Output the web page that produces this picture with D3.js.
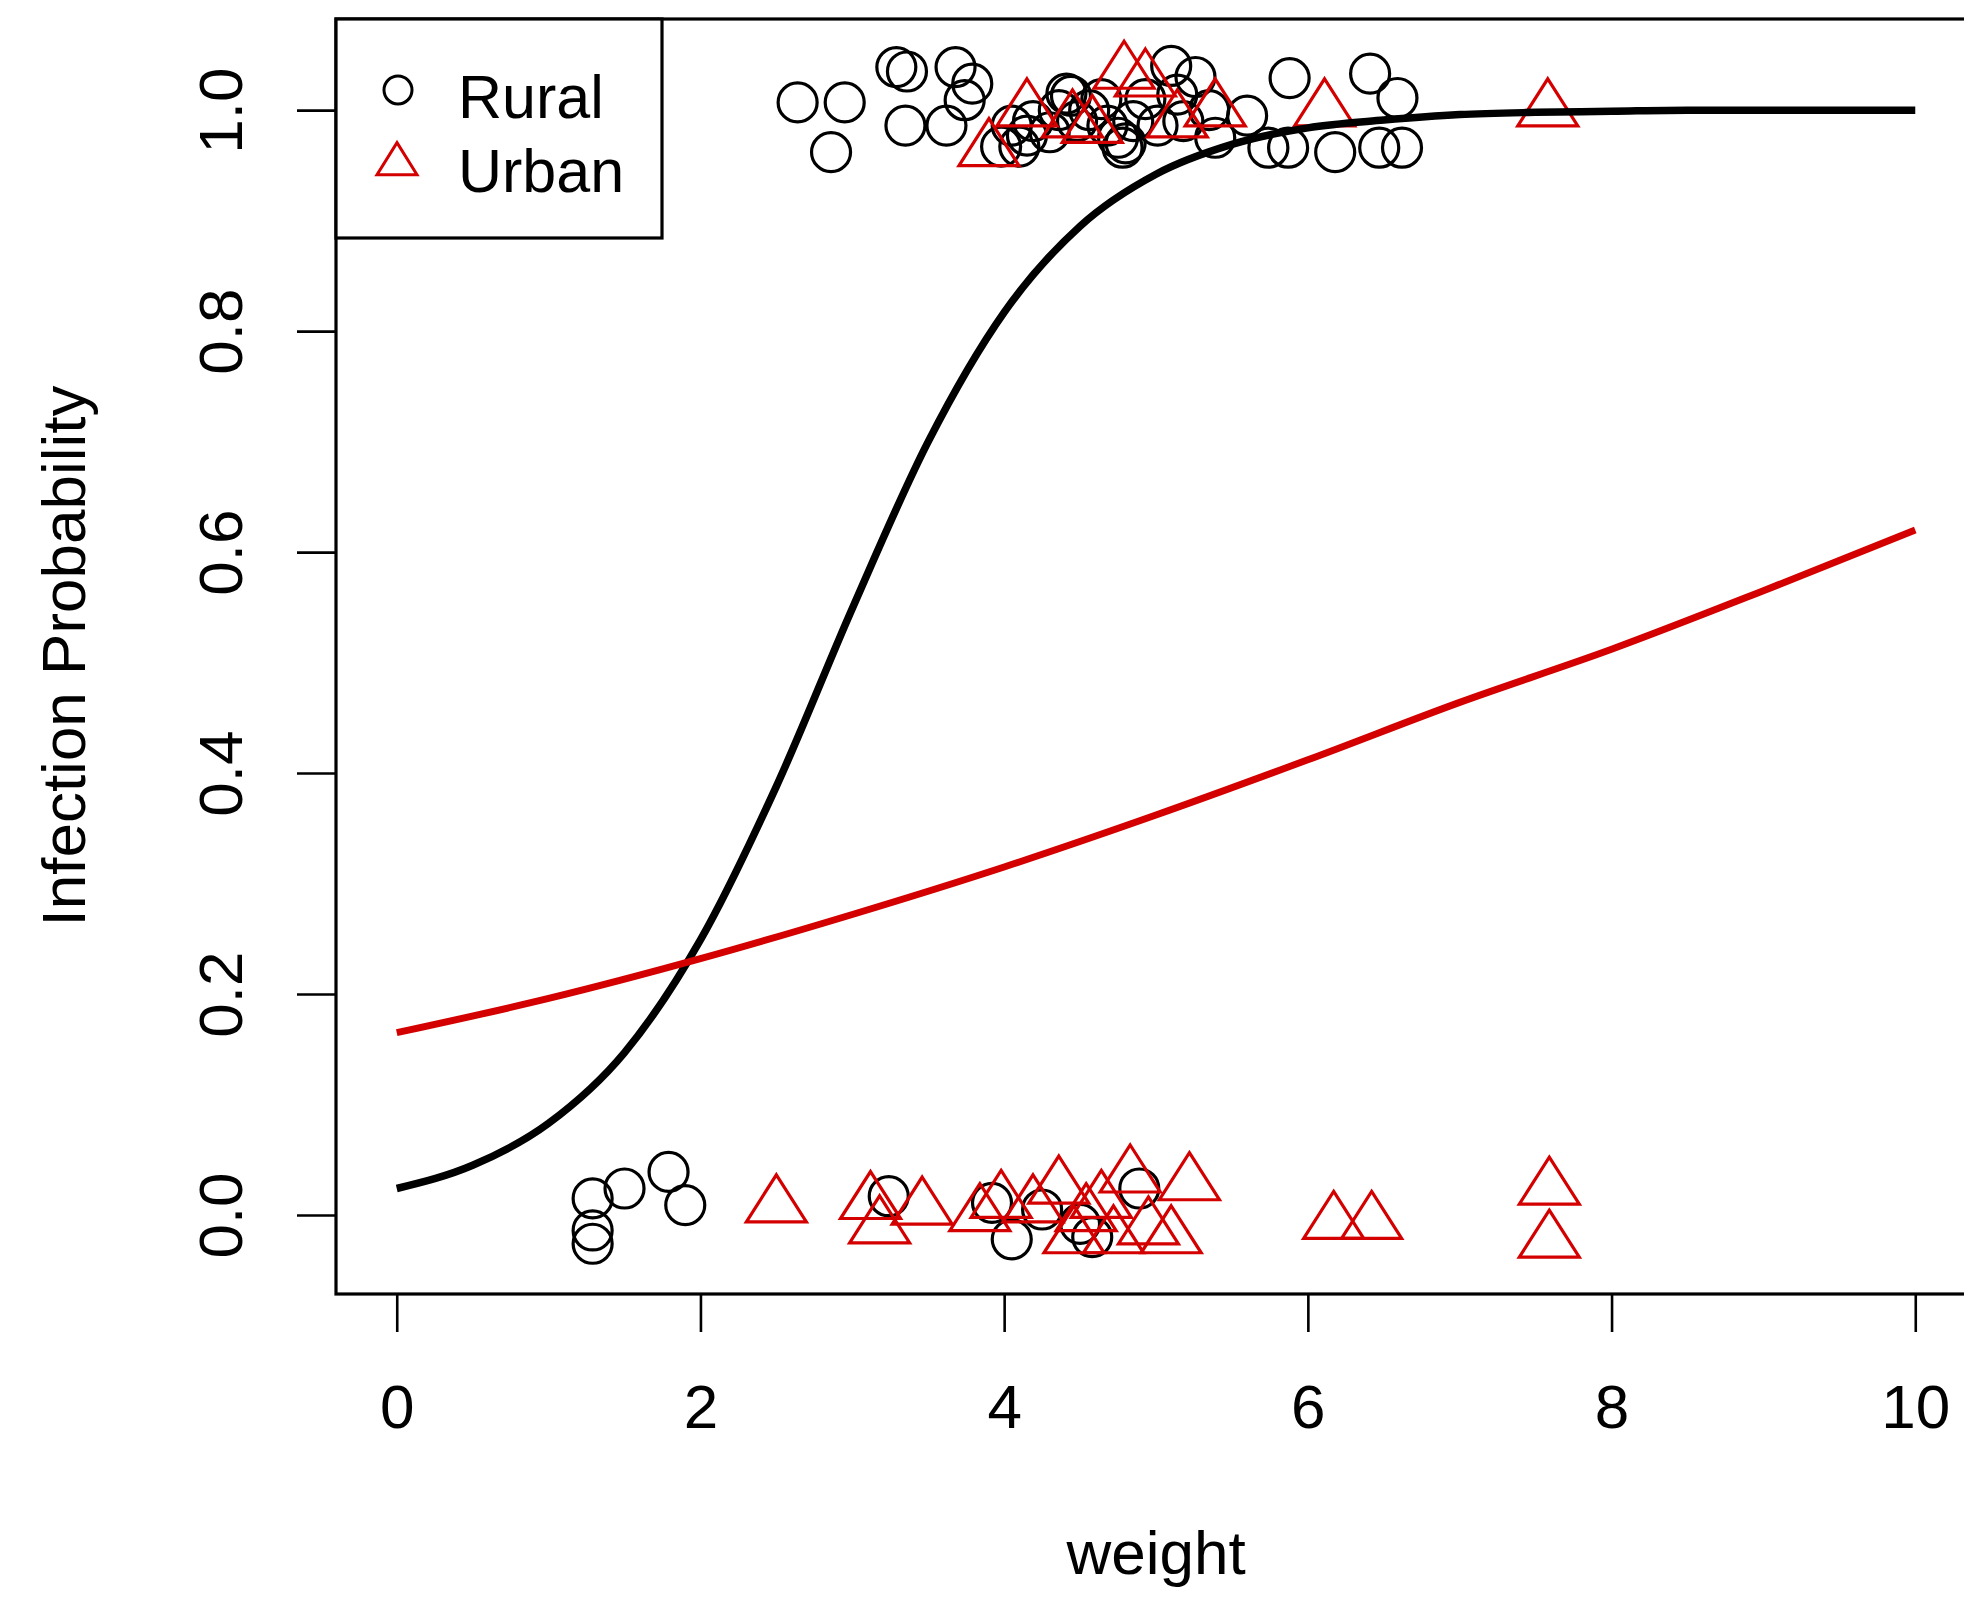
<!DOCTYPE html>
<html>
<head>
<meta charset="utf-8">
<script src="https://cdn.jsdelivr.net/npm/d3@7"></script>
<style>
  html, body { margin: 0; padding: 0; background: #ffffff; }
  svg { display: block; }
  text { font-family: "Liberation Sans", Arial, sans-serif; fill: #000; }
</style>
</head>
<body>
<svg id="chart" width="1964" height="1600"></svg>
<script>
// ---------------- data ----------------
const xTicks = [0, 2, 4, 6, 8, 10];
const yTicks = [0.0, 0.2, 0.4, 0.6, 0.8, 1.0];
const xTitle = "weight";
const yTitle = "Infection Probability";
const legendLabels = ["Rural", "Urban"];

// Rural observations (black circles)
const ruralX = [2.64, 2.95, 2.86, 3.29, 3.36, 3.68, 3.79, 3.74, 3.35, 3.62,
                3.98, 4.10, 4.19, 4.05, 4.15, 4.30, 4.36, 4.41, 4.44, 4.48, 4.56, 4.64, 4.68,
                4.75, 4.78, 4.80, 4.85, 4.93, 5.01, 5.10, 5.14, 5.18, 5.26, 5.35, 5.39,
                5.60, 5.74, 5.87, 5.88, 6.18, 6.41, 6.47, 6.59, 6.62,
                1.29, 1.50, 1.29, 1.29, 1.79, 1.90, 3.24, 3.92, 4.05, 4.25, 4.50, 4.58, 4.89];
const ruralY = [1.007, 1.007, 0.962, 1.039, 1.035, 1.039, 1.024, 1.009, 0.986, 0.986,
                0.967, 0.967, 0.990, 0.986, 0.977, 0.980, 1.000, 1.015, 1.013, 0.990, 1.000, 1.010, 0.986,
                0.975, 0.966, 0.970, 0.990, 1.010, 0.986, 1.040, 1.014, 0.990, 1.030, 1.000, 0.975,
                0.995, 0.966, 0.966, 1.029, 0.962, 1.033, 0.966, 1.011, 0.966,
                0.015, 0.024, -0.014, -0.026, 0.039, 0.009, 0.017, 0.011, -0.022, 0.005, -0.008, -0.020, 0.024];

// Urban observations (red triangles)
const urbanX = [3.90, 4.15, 4.45, 4.58, 4.79, 4.93, 5.14, 5.39, 6.11, 7.58,
                2.50, 3.12, 3.18, 3.46, 3.84, 3.98, 4.19, 4.36, 4.46, 4.54, 4.64, 4.72,
                4.83, 4.95, 5.10, 5.22, 6.17, 6.42, 7.59, 7.59];
const urbanY = [0.964, 1.000, 0.990, 0.985, 1.034, 1.027, 0.990, 1.000, 1.000, 1.000,
                0.008, 0.011, -0.011, 0.006, 0.000, 0.012, 0.008, 0.025, -0.020, 0.000, 0.012, -0.020,
                0.035, -0.012, -0.020, 0.028, -0.007, -0.007, 0.024, -0.024];

// fitted curves
const fitRuralX = [0, 0.5, 1, 1.5, 2, 2.5, 3, 3.5, 4, 4.5, 5, 5.5, 6, 6.5, 7, 7.5, 8, 8.5, 9, 9.5, 10];
const fitRuralY = [0.024, 0.045, 0.083, 0.147, 0.249, 0.388, 0.549, 0.700, 0.817, 0.895, 0.942,
                   0.969, 0.984, 0.991, 0.996, 0.998, 0.999, 1.0, 1.0, 1.0, 1.0];
const fitUrbanX = [0, 1, 2, 3, 4, 5, 6, 7, 8, 9, 10];
const fitUrbanY = [0.165, 0.196, 0.232, 0.272, 0.315, 0.362, 0.412, 0.464, 0.512, 0.565, 0.620];

// ---------------- drawing ----------------
const RED = "#d40000";
const svg = d3.select("#chart");

const plot = { left: 336, top: 19, right: 1976, bottom: 1294 };
const x = d3.scaleLinear().domain([-0.4, 10.4]).range([plot.left, plot.right]);
const y = d3.scaleLinear().domain([-0.0715, 1.0825]).range([plot.bottom, plot.top]);

// x axis
const xAxis = d3.axisBottom(x).tickValues(xTicks).tickSize(38).tickPadding(52)
  .tickFormat(d3.format("d"));
const gx = svg.append("g").attr("transform", `translate(0,${plot.bottom})`).call(xAxis);
gx.select(".domain").remove();
gx.selectAll(".tick line").attr("stroke", "#000").attr("stroke-width", 2.6);
gx.selectAll(".tick text").attr("font-size", 62).attr("font-family", "Liberation Sans, Arial, sans-serif")
  .attr("fill", "#000");

// y axis
const yAxis = d3.axisLeft(y).tickValues(yTicks).tickSize(39).tickPadding(0)
  .tickFormat(d3.format(".1f"));
const gy = svg.append("g").attr("transform", `translate(${plot.left},0)`).call(yAxis);
gy.select(".domain").remove();
gy.selectAll(".tick line").attr("stroke", "#000").attr("stroke-width", 2.6);
gy.selectAll(".tick text")
  .attr("font-size", 62).attr("font-family", "Liberation Sans, Arial, sans-serif").attr("fill", "#000")
  .attr("x", null).attr("dy", null)
  .attr("text-anchor", "middle")
  .attr("transform", `translate(${242 - plot.left},0) rotate(-90)`);

// axis titles
svg.append("text").attr("x", 1156).attr("y", 1574).attr("text-anchor", "middle")
  .attr("font-size", 62).text(xTitle);
svg.append("text").attr("transform", `translate(85,656) rotate(-90)`).attr("text-anchor", "middle")
  .attr("font-size", 62).text(yTitle);

// clip for plot region
svg.append("clipPath").attr("id", "clip").append("rect")
  .attr("x", plot.left).attr("y", plot.top)
  .attr("width", plot.right - plot.left).attr("height", plot.bottom - plot.top);
const pg = svg.append("g").attr("clip-path", "url(#clip)");

// triangle path (R pch 2 style: data point at 2/3 height from apex)
function triPath(w, h) {
  return `M0,${-2 * h / 3} L${w / 2},${h / 3} L${-w / 2},${h / 3} Z`;
}

// rural circles
pg.append("g").selectAll("circle").data(d3.range(ruralX.length)).join("circle")
  .attr("cx", i => x(ruralX[i])).attr("cy", i => y(ruralY[i])).attr("r", 19.5)
  .attr("fill", "none").attr("stroke", "#000").attr("stroke-width", 3.2);

// urban triangles
pg.append("g").selectAll("path").data(d3.range(urbanX.length)).join("path")
  .attr("transform", i => `translate(${x(urbanX[i])},${y(urbanY[i])})`)
  .attr("d", triPath(60, 47))
  .attr("fill", "none").attr("stroke", RED).attr("stroke-width", 3.2);

// fitted curves
const line = d3.line().x(d => x(d[0])).y(d => y(d[1])).curve(d3.curveMonotoneX);
pg.append("path").datum(fitRuralX.map((v, i) => [v, fitRuralY[i]]))
  .attr("d", line).attr("fill", "none").attr("stroke", "#000").attr("stroke-width", 7.5);
pg.append("path").datum(fitUrbanX.map((v, i) => [v, fitUrbanY[i]]))
  .attr("d", line).attr("fill", "none").attr("stroke", RED).attr("stroke-width", 7);

// plot frame
svg.append("rect").attr("x", plot.left).attr("y", plot.top)
  .attr("width", plot.right - plot.left).attr("height", plot.bottom - plot.top)
  .attr("fill", "none").attr("stroke", "#000").attr("stroke-width", 3.2);

// legend
const lg = svg.append("g");
lg.append("rect").attr("x", plot.left).attr("y", plot.top).attr("width", 326).attr("height", 219)
  .attr("fill", "#fff").attr("stroke", "#000").attr("stroke-width", 3.2);
lg.append("circle").attr("cx", 398).attr("cy", 90).attr("r", 14)
  .attr("fill", "none").attr("stroke", "#000").attr("stroke-width", 3);
lg.append("path").attr("transform", "translate(397,164)").attr("d", triPath(40, 32))
  .attr("fill", "none").attr("stroke", RED).attr("stroke-width", 3);
lg.append("text").attr("x", 458).attr("y", 118).attr("font-size", 61).text(legendLabels[0]);
lg.append("text").attr("x", 458).attr("y", 192).attr("font-size", 61).text(legendLabels[1]);
</script>
</body>
</html>
